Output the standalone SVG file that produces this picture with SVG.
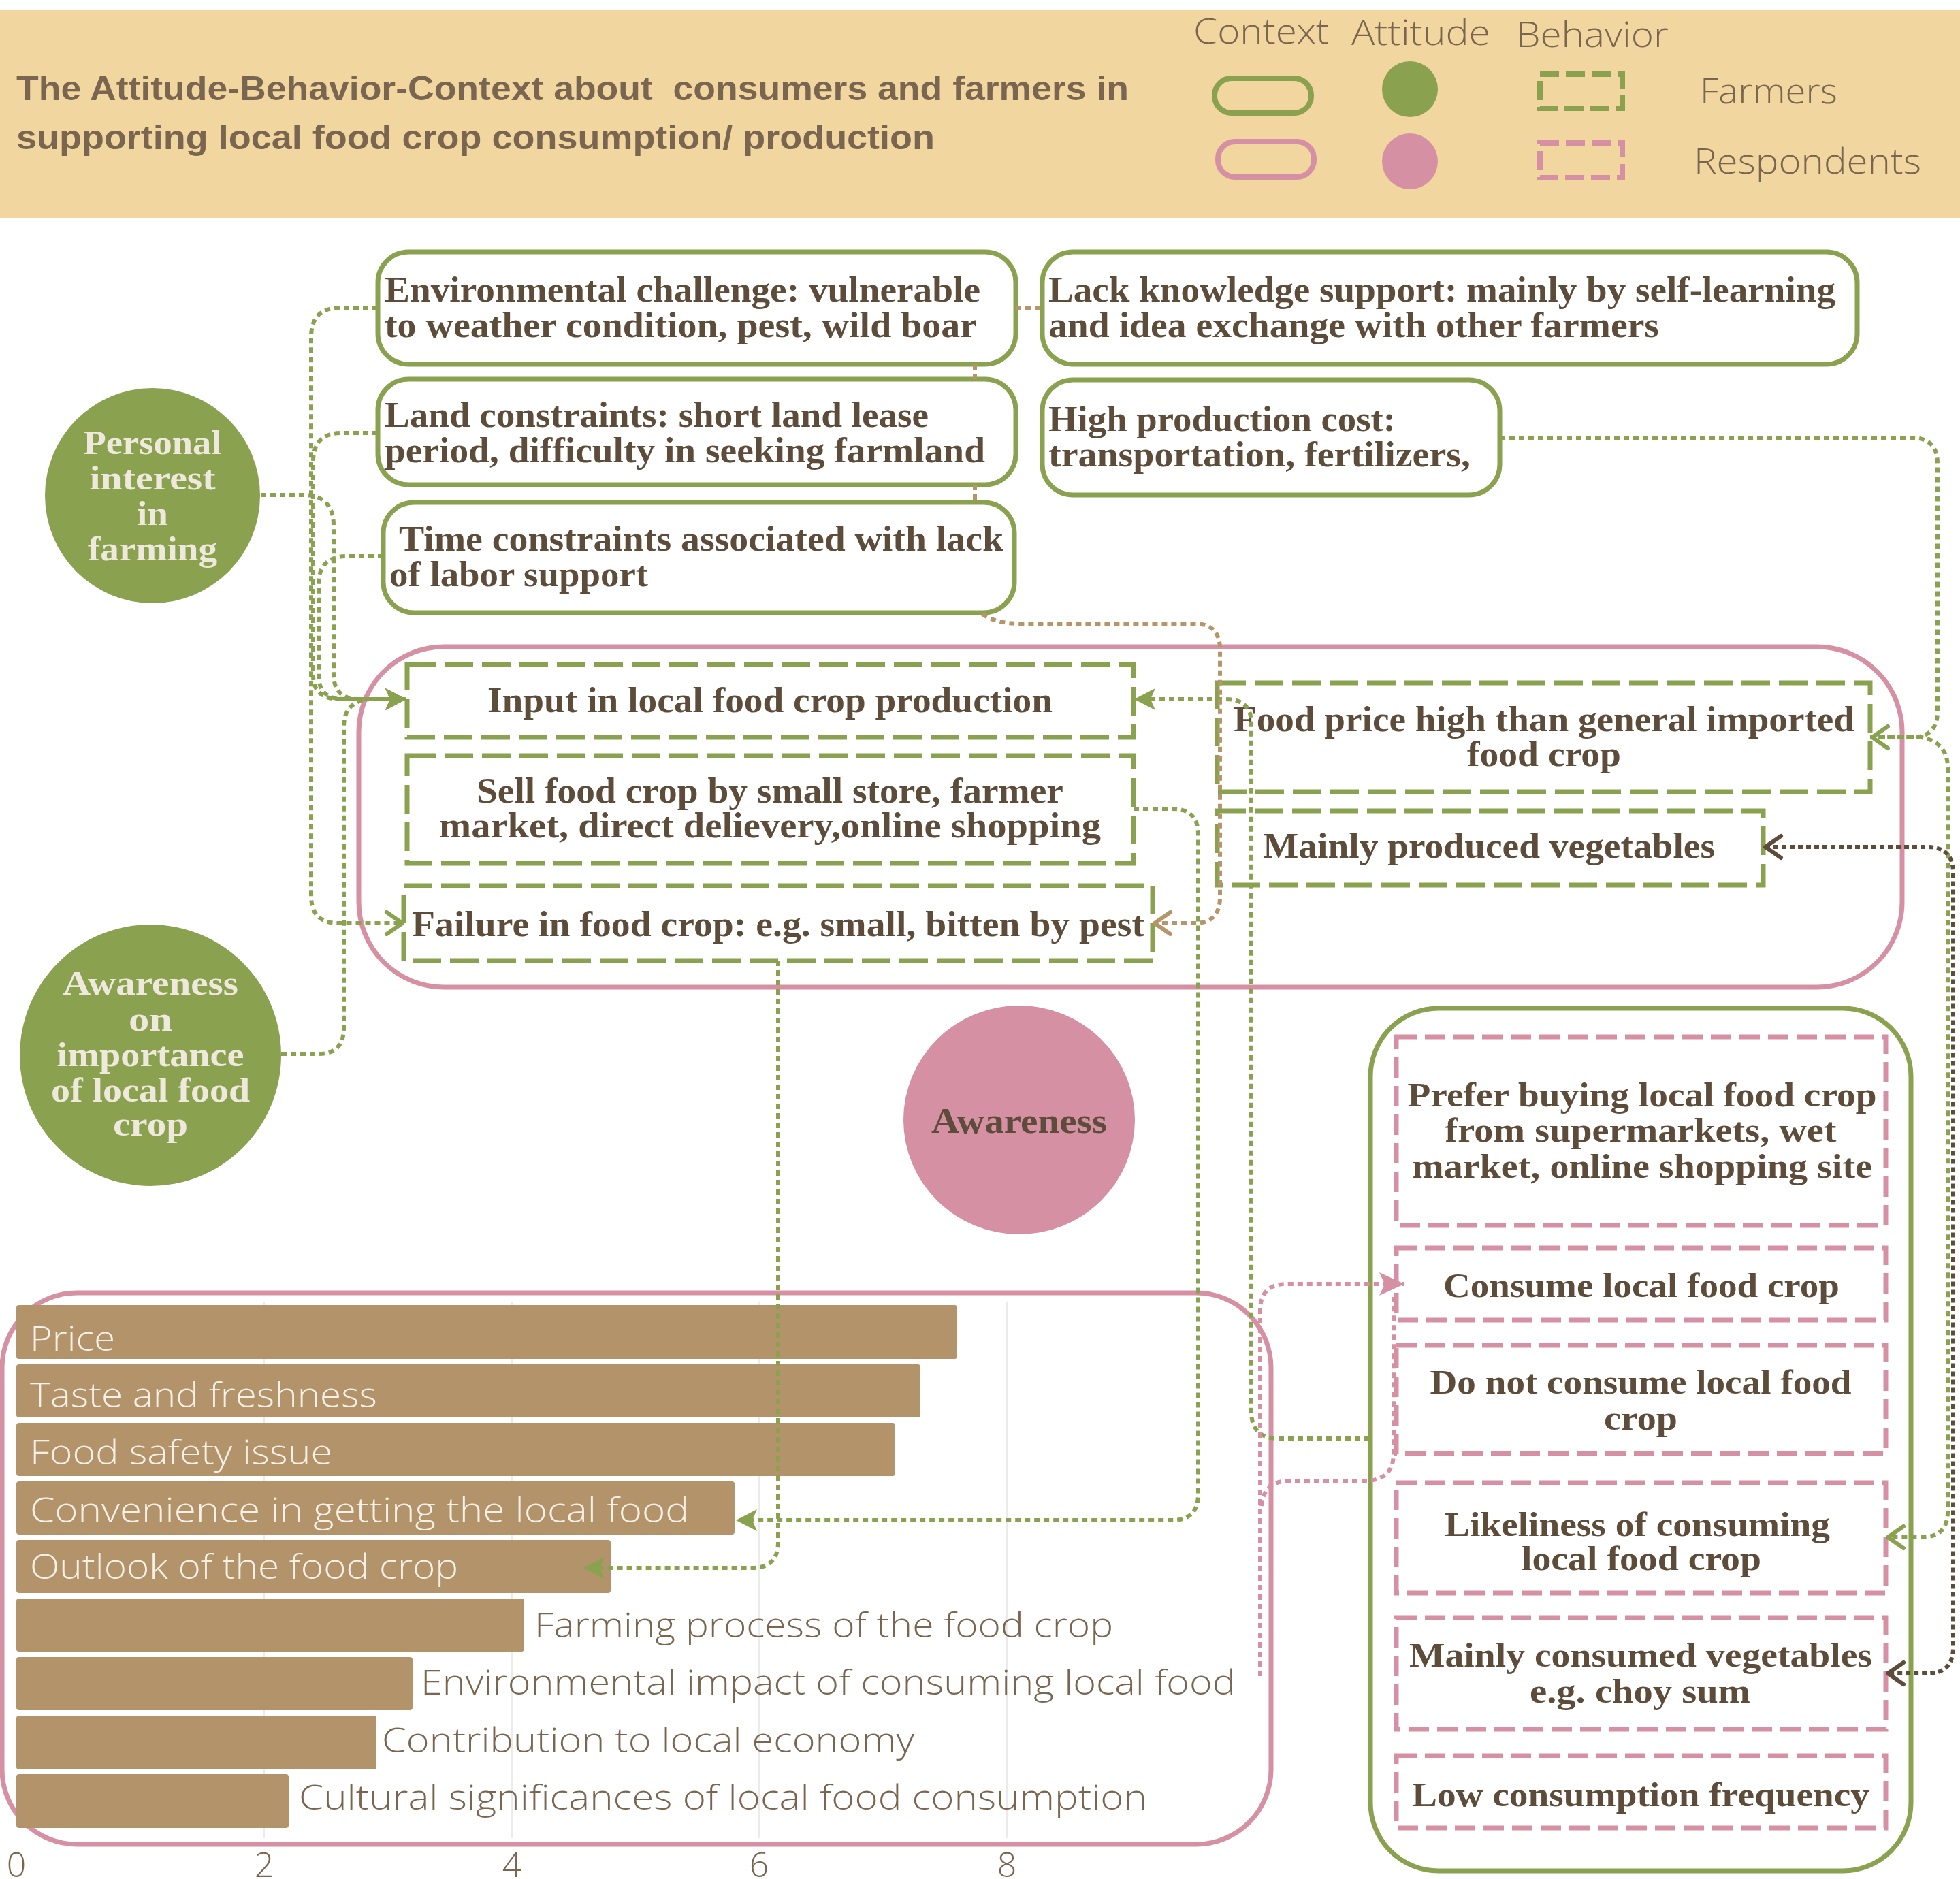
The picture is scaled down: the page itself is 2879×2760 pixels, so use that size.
<svg xmlns="http://www.w3.org/2000/svg" width="2879" height="2760" viewBox="0 0 2879 2760">
<style>
.ctx{fill:#fff;stroke:#8AA24F;stroke-width:7}
.bg{fill:#fff;stroke:#8AA24F;stroke-width:7;stroke-dasharray:42 13}
.bp{fill:#fff;stroke:#D690A3;stroke-width:7;stroke-dasharray:30 12}
.t{font-family:"Liberation Serif","DejaVu Serif",serif;font-weight:bold;font-size:52px;fill:#5E4C3A}
.tr{font-family:"Liberation Serif","DejaVu Serif",serif;font-weight:bold;font-size:50px;fill:#5E4C3A}
.ta{font-family:"Liberation Serif","DejaVu Serif",serif;font-weight:bold;font-size:50px;fill:#EFE9DD}
.m{text-anchor:middle}
.bar{fill:#B3936A}
.bl{font-family:"Open Sans","Liberation Sans",sans-serif;font-weight:300;font-size:50px;fill:#F6F0E8}
.blo{font-family:"Open Sans","Liberation Sans",sans-serif;font-weight:300;font-size:50px;fill:#7A6650}
.lg{font-family:"Open Sans","Liberation Sans",sans-serif;font-weight:300;font-size:52px;fill:#7A6650}
.ttl{font-family:"Liberation Sans","Arial",sans-serif;font-weight:bold;font-size:50px;fill:#7A6650}
.cg{fill:none;stroke:#8AA24F;stroke-width:6;stroke-dasharray:8 6}
.ct{fill:none;stroke:#B5956A;stroke-width:6;stroke-dasharray:8 6}
.cd{fill:none;stroke:#5E4C3A;stroke-width:6;stroke-dasharray:7 5}
.cp{fill:none;stroke:#D690A3;stroke-width:6;stroke-dasharray:8 6}
.grid{stroke:#EBEBEB;stroke-width:2}
</style>
<defs>
<marker id="triG" markerUnits="userSpaceOnUse" viewBox="0 0 34 36" markerWidth="34" markerHeight="36" refX="30" refY="18" orient="auto"><path d="M0,2 L31,18 L0,34 L7,18 Z" fill="#8AA24F"/></marker>
<marker id="triP" markerUnits="userSpaceOnUse" viewBox="0 0 40 40" markerWidth="40" markerHeight="40" refX="36" refY="20" orient="auto"><path d="M0,3 L37,20 L0,37 L8,20 Z" fill="#D690A3"/></marker>
<marker id="chevG" markerUnits="userSpaceOnUse" viewBox="0 0 32 40" markerWidth="32" markerHeight="40" refX="27" refY="20" orient="auto-start-reverse"><path d="M4,4 L27,20 L4,36" fill="none" stroke="#8AA24F" stroke-width="6" stroke-linecap="round" stroke-linejoin="round"/></marker>
<marker id="chevT" markerUnits="userSpaceOnUse" viewBox="0 0 32 40" markerWidth="32" markerHeight="40" refX="27" refY="20" orient="auto-start-reverse"><path d="M4,4 L27,20 L4,36" fill="none" stroke="#B5956A" stroke-width="6" stroke-linecap="round" stroke-linejoin="round"/></marker>
<marker id="chevD" markerUnits="userSpaceOnUse" viewBox="0 0 32 40" markerWidth="32" markerHeight="40" refX="27" refY="20" orient="auto-start-reverse"><path d="M4,4 L27,20 L4,36" fill="none" stroke="#5E4C3A" stroke-width="6" stroke-linecap="round" stroke-linejoin="round"/></marker>
</defs>
<rect width="2879" height="2760" fill="#fff"/>

<g id="header">
<rect x="0" y="15" width="2879" height="305" fill="#F1D69F"/>
<text class="ttl" x="24" y="147" textLength="1634" lengthAdjust="spacingAndGlyphs" xml:space="preserve">The Attitude-Behavior-Context about  consumers and farmers in</text>
<text class="ttl" x="24" y="219" textLength="1349" lengthAdjust="spacingAndGlyphs">supporting local food crop consumption/ production</text>
</g>

<g id="legend">
<text class="lg" x="1753" y="64" textLength="199" lengthAdjust="spacingAndGlyphs">Context</text>
<text class="lg" x="1985" y="66" textLength="204" lengthAdjust="spacingAndGlyphs">Attitude</text>
<text class="lg" x="2227" y="69" textLength="224" lengthAdjust="spacingAndGlyphs">Behavior</text>
<rect x="1784" y="115" width="142" height="51" rx="25" fill="none" stroke="#8AA24F" stroke-width="8"/>
<rect x="1789" y="208" width="141" height="52" rx="25" fill="none" stroke="#D690A3" stroke-width="8"/>
<circle cx="2071" cy="131" r="41" fill="#8AA24F"/>
<circle cx="2071" cy="237" r="41" fill="#D690A3"/>
<rect x="2262" y="109" width="121" height="50" fill="none" stroke="#8AA24F" stroke-width="8" stroke-dasharray="28 10"/>
<rect x="2262" y="210" width="121" height="51" fill="none" stroke="#D690A3" stroke-width="8" stroke-dasharray="28 10"/>
<text class="lg" x="2497" y="152" textLength="202" lengthAdjust="spacingAndGlyphs">Farmers</text>
<text class="lg" x="2488" y="255" textLength="334" lengthAdjust="spacingAndGlyphs">Respondents</text>
</g>

<g id="context-env">
<rect class="ctx" x="555" y="370" width="937" height="165" rx="45"/>
<text class="t" x="565" y="443" textLength="875" lengthAdjust="spacingAndGlyphs">Environmental challenge: vulnerable</text>
<text class="t" x="565" y="495" textLength="870" lengthAdjust="spacingAndGlyphs">to weather condition, pest, wild boar</text>
</g>
<g id="context-land">
<rect class="ctx" x="555" y="557" width="937" height="155" rx="45"/>
<text class="t" x="565" y="627" textLength="799" lengthAdjust="spacingAndGlyphs">Land constraints: short land lease</text>
<text class="t" x="565" y="679" textLength="882" lengthAdjust="spacingAndGlyphs">period, difficulty in seeking farmland</text>
</g>
<g id="context-time">
<rect class="ctx" x="563" y="738" width="927" height="162" rx="45"/>
<text class="t" x="586" y="809" textLength="888" lengthAdjust="spacingAndGlyphs">Time constraints associated with lack</text>
<text class="t" x="572" y="861" textLength="380" lengthAdjust="spacingAndGlyphs">of labor support</text>
</g>
<g id="context-knowledge">
<rect class="ctx" x="1531" y="370" width="1197" height="165" rx="45"/>
<text class="t" x="1540" y="443" textLength="1156" lengthAdjust="spacingAndGlyphs">Lack knowledge support: mainly by self-learning</text>
<text class="t" x="1540" y="495" textLength="897" lengthAdjust="spacingAndGlyphs">and idea exchange with other farmers</text>
</g>
<g id="context-cost">
<rect class="ctx" x="1531" y="558" width="672" height="169" rx="45"/>
<text class="t" x="1540" y="633" textLength="510" lengthAdjust="spacingAndGlyphs">High production cost:</text>
<text class="t" x="1540" y="685" textLength="620" lengthAdjust="spacingAndGlyphs">transportation, fertilizers,</text>
</g>

<g id="attitude-personal">
<circle cx="224" cy="728" r="158" fill="#8AA24F"/>
<text class="ta m" x="224" y="667" textLength="203" lengthAdjust="spacingAndGlyphs">Personal</text>
<text class="ta m" x="224" y="719" textLength="185" lengthAdjust="spacingAndGlyphs">interest</text>
<text class="ta m" x="224" y="771" textLength="46" lengthAdjust="spacingAndGlyphs">in</text>
<text class="ta m" x="224" y="823" textLength="190" lengthAdjust="spacingAndGlyphs">farming</text>
</g>
<g id="attitude-awareness-farmers">
<circle cx="221" cy="1550" r="192" fill="#8AA24F"/>
<text class="ta m" x="221" y="1461" textLength="258" lengthAdjust="spacingAndGlyphs">Awareness</text>
<text class="ta m" x="221" y="1514" textLength="64" lengthAdjust="spacingAndGlyphs">on</text>
<text class="ta m" x="221" y="1566" textLength="275" lengthAdjust="spacingAndGlyphs">importance</text>
<text class="ta m" x="221" y="1618" textLength="292" lengthAdjust="spacingAndGlyphs">of local food</text>
<text class="ta m" x="221" y="1668" textLength="110" lengthAdjust="spacingAndGlyphs">crop</text>
</g>
<g id="attitude-awareness-respondents">
<ellipse cx="1497" cy="1645" rx="170" ry="168" fill="#D690A3"/>
<text class="t m" x="1497" y="1664" textLength="258" lengthAdjust="spacingAndGlyphs">Awareness</text>
</g>

<g id="context-farmer-container">
<rect x="527" y="950" width="2267" height="500" rx="125" fill="none" stroke="#D690A3" stroke-width="7"/>
</g>
<g id="behavior-input">
<rect class="bg" x="598" y="976" width="1067" height="107"/>
<text class="t m" x="1131" y="1046" textLength="830" lengthAdjust="spacingAndGlyphs">Input in local food crop production</text>
</g>
<g id="behavior-sell">
<rect class="bg" x="598" y="1110" width="1067" height="158"/>
<text class="t m" x="1131" y="1179" textLength="862" lengthAdjust="spacingAndGlyphs">Sell food crop by small store, farmer</text>
<text class="t m" x="1131" y="1230" textLength="972" lengthAdjust="spacingAndGlyphs">market, direct delievery,online shopping</text>
</g>
<g id="behavior-failure">
<rect class="bg" x="593" y="1301" width="1100" height="110"/>
<text class="t" x="605" y="1375" textLength="1076" lengthAdjust="spacingAndGlyphs">Failure in food crop: e.g. small, bitten by pest</text>
</g>
<g id="behavior-price">
<rect class="bg" x="1788" y="1003" width="959" height="160"/>
<text class="t m" x="2268" y="1074" textLength="912" lengthAdjust="spacingAndGlyphs">Food price high than general imported</text>
<text class="t m" x="2268" y="1125" textLength="226" lengthAdjust="spacingAndGlyphs">food crop</text>
</g>
<g id="behavior-vegetables">
<rect class="bg" x="1788" y="1191" width="802" height="109"/>
<text class="t m" x="2187" y="1260" textLength="664" lengthAdjust="spacingAndGlyphs">Mainly produced vegetables</text>
</g>

<g id="context-respondent-container">
<rect x="2013" y="1481" width="794" height="1267" rx="100" fill="none" stroke="#8AA24F" stroke-width="7"/>
</g>
<g id="resp-prefer">
<rect class="bp" x="2051" y="1523" width="719" height="277"/>
<text class="tr m" x="2412" y="1625" textLength="689" lengthAdjust="spacingAndGlyphs">Prefer buying local food crop</text>
<text class="tr m" x="2410" y="1677" textLength="575" lengthAdjust="spacingAndGlyphs">from supermarkets, wet</text>
<text class="tr m" x="2412" y="1730" textLength="676" lengthAdjust="spacingAndGlyphs">market, online shopping site</text>
</g>
<g id="resp-consume">
<rect class="bp" x="2051" y="1833" width="719" height="106"/>
<text class="tr m" x="2411" y="1905" textLength="582" lengthAdjust="spacingAndGlyphs">Consume local food crop</text>
</g>
<g id="resp-notconsume">
<rect class="bp" x="2051" y="1976" width="719" height="159"/>
<text class="tr m" x="2410" y="2047" textLength="619" lengthAdjust="spacingAndGlyphs">Do not consume local food</text>
<text class="tr m" x="2410" y="2100" textLength="108" lengthAdjust="spacingAndGlyphs">crop</text>
</g>
<g id="resp-likeliness">
<rect class="bp" x="2051" y="2178" width="719" height="162"/>
<text class="tr m" x="2405" y="2256" textLength="566" lengthAdjust="spacingAndGlyphs">Likeliness of consuming</text>
<text class="tr m" x="2411" y="2306" textLength="352" lengthAdjust="spacingAndGlyphs">local food crop</text>
</g>
<g id="resp-vegetables">
<rect class="bp" x="2051" y="2376" width="719" height="164"/>
<text class="tr m" x="2410" y="2448" textLength="680" lengthAdjust="spacingAndGlyphs">Mainly consumed vegetables</text>
<text class="tr m" x="2409" y="2501" textLength="324" lengthAdjust="spacingAndGlyphs">e.g. choy sum</text>
</g>
<g id="resp-frequency">
<rect class="bp" x="2051" y="2579" width="719" height="106"/>
<text class="tr m" x="2410" y="2653" textLength="672" lengthAdjust="spacingAndGlyphs">Low consumption frequency</text>
</g>

<g id="chart">
<rect x="3" y="1899" width="1864" height="810" rx="110" fill="none" stroke="#D690A3" stroke-width="7"/>
<line class="grid" x1="388" y1="1912" x2="388" y2="2700"/>
<line class="grid" x1="752" y1="1912" x2="752" y2="2700"/>
<line class="grid" x1="1115" y1="1912" x2="1115" y2="2700"/>
<line class="grid" x1="1479" y1="1912" x2="1479" y2="2700"/>
<rect class="bar" x="24" y="1917" width="1382" height="79" rx="4"/>
<rect class="bar" x="24" y="2004" width="1328" height="78" rx="4"/>
<rect class="bar" x="24" y="2090" width="1291" height="78" rx="4"/>
<rect class="bar" x="24" y="2176" width="1055" height="78" rx="4"/>
<rect class="bar" x="24" y="2262" width="873" height="78" rx="4"/>
<rect class="bar" x="24" y="2348" width="746" height="78" rx="4"/>
<rect class="bar" x="24" y="2434" width="582" height="78" rx="4"/>
<rect class="bar" x="24" y="2520" width="529" height="79" rx="4"/>
<rect class="bar" x="24" y="2606" width="400" height="79" rx="4"/>
<text class="bl" x="44" y="1984" textLength="125" lengthAdjust="spacingAndGlyphs">Price</text>
<text class="bl" x="44" y="2067" textLength="510" lengthAdjust="spacingAndGlyphs">Taste and freshness</text>
<text class="bl" x="44" y="2151" textLength="444" lengthAdjust="spacingAndGlyphs">Food safety issue</text>
<text class="bl" x="44" y="2236" textLength="968" lengthAdjust="spacingAndGlyphs">Convenience in getting the local food</text>
<text class="bl" x="44" y="2319" textLength="629" lengthAdjust="spacingAndGlyphs">Outlook of the food crop</text>
<text class="blo" x="785" y="2405" textLength="850" lengthAdjust="spacingAndGlyphs">Farming process of the food crop</text>
<text class="blo" x="618" y="2489" textLength="1197" lengthAdjust="spacingAndGlyphs">Environmental impact of consuming local food</text>
<text class="blo" x="561" y="2574" textLength="782" lengthAdjust="spacingAndGlyphs">Contribution to local economy</text>
<text class="blo" x="439" y="2658" textLength="1246" lengthAdjust="spacingAndGlyphs">Cultural significances of local food consumption</text>
<text class="blo m" x="24" y="2757">0</text>
<text class="blo m" x="388" y="2757">2</text>
<text class="blo m" x="752" y="2757">4</text>
<text class="blo m" x="1115" y="2757">6</text>
<text class="blo m" x="1479" y="2757">8</text>
</g>

<g id="connectors">
<path class="cg" d="M555,452 H500 Q457,452 457,495 V1316 Q457,1356 497,1356 H591" marker-end="url(#chevG)"/>
<path class="cg" d="M555,636 H502 Q460,636 460,678 V992 Q460,1027 500,1027 H596" marker-end="url(#triG)"/>
<path class="cg" d="M563,817 H510 Q468,817 468,858 V992 Q468,1027 505,1027 H596" marker-end="url(#triG)"/>
<path class="cg" d="M383,727 H450 Q490,730 490,772 V990 Q490,1027 527,1027 H596" marker-end="url(#triG)"/>
<path class="cg" d="M413,1548 H468 Q505,1548 505,1510 V1068 Q505,1030 543,1027 H596" marker-end="url(#triG)"/>
<path class="cg" d="M2012,2113 H1878 Q1838,2113 1838,2073 V1062 Q1838,1027 1800,1027 H1667" marker-end="url(#triG)"/>
<path class="cg" d="M1665,1188 H1722 Q1760,1188 1760,1226 V2195 Q1760,2233 1722,2233 H1082" marker-end="url(#triG)"/>
<path class="cg" d="M1143,1411 V2265 Q1143,2303 1105,2303 H858" marker-end="url(#triG)"/>
<path class="cg" d="M2203,643 H2808 Q2846,643 2846,681 V1045 Q2846,1083 2808,1083 H2750" marker-end="url(#chevG)"/>
<path class="cg" d="M2747,1083 H2822 Q2861,1090 2861,1128 V2220 Q2861,2258 2823,2258 H2773" marker-end="url(#chevG)"/>
<path class="ct" d="M1492,452 H1531"/>
<path class="ct" d="M1432,535 V557"/>
<path class="ct" d="M1432,712 V738"/>
<path class="ct" d="M1443,902 Q1462,916 1500,916 H1755 Q1792,916 1792,954 V1318 Q1792,1356 1754,1356 H1696" marker-end="url(#chevT)"/>
<path class="cd" d="M2593,1244 H2831 Q2869,1244 2869,1282 V2420 Q2869,2458 2831,2458 H2773" marker-start="url(#chevD)" marker-end="url(#chevD)"/>
<path class="cp" d="M1851,2462 V1925 Q1851,1886 1890,1886 H2062" marker-end="url(#triP)"/>
<path class="cp" d="M1853,2212 Q1856,2175 1895,2175 H2010 Q2047,2172 2047,2135 V1905"/>
</g>
</svg>
